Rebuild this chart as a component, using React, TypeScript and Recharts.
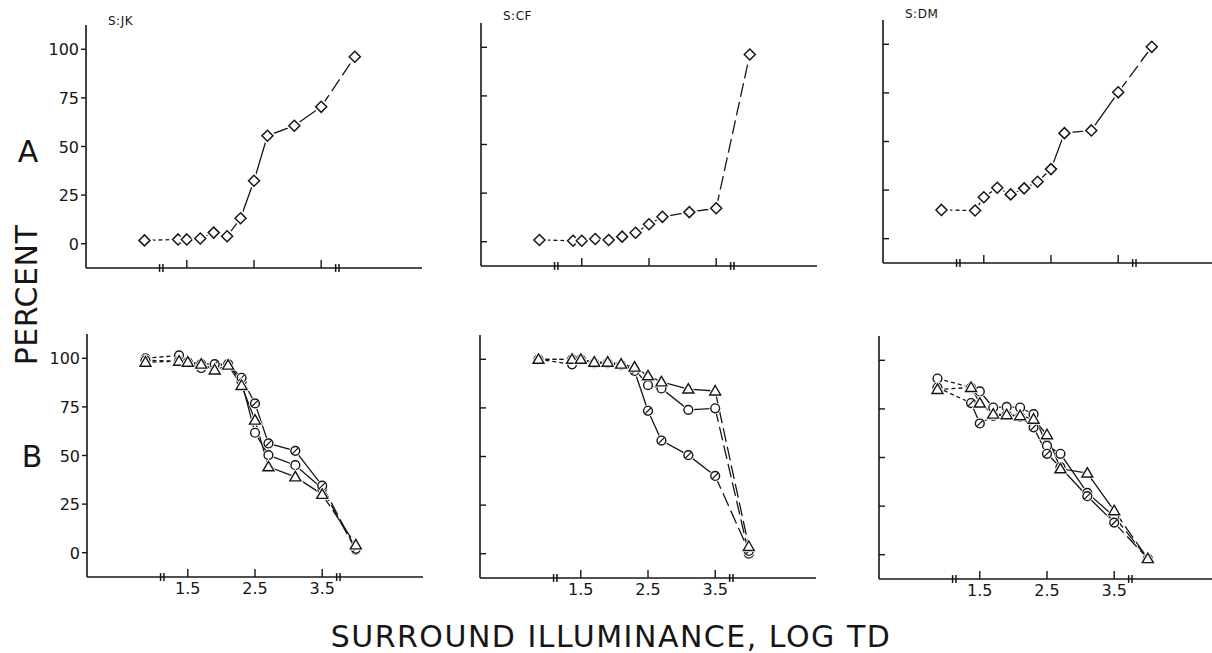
import { ComposedChart, Line, Scatter, XAxis, YAxis, ReferenceLine } from "recharts";

// surround illuminance, log td (first point sits left of the axis break)
const X_LOG_TD = [0.87, 1.37, 1.5, 1.7, 1.9, 2.1, 2.3, 2.5, 2.7, 3.1, 3.5, 4.0];
const X_TICKS = [1.5, 2.5, 3.5];
const Y_TICKS = [0, 25, 50, 75, 100];
const AXIS_BREAKS = [1.12, 3.74];

// row A (diamonds)
const JK_A = [1.7, 2.2, 2.2, 2.7, 5.7, 3.8, 13.1, 32.4, 55.5, 60.7, 70.4, 96.2];
const CF_A = [0.9, 0.5, 0.5, 1.4, 0.9, 2.6, 4.6, 9.0, 12.8, 15.2, 17.2, 96.3];
const DM_A = [14.8, 14.5, 21.3, 26.2, 22.8, 25.9, 29.3, 35.8, 54.3, 55.7, 75.3, 98.7];

// row B: open circle, slashed circle, triangle
const JK_B_OPEN = [100, 101.5, 98, 95, 96, 97, 88, 61.7, 50.2, 45, 33, 1.5];
const JK_B_SLASH = [99, 98.5, 98, 97, 97, 97, 90, 76.8, 56.2, 52.4, 34.5, 2];
const JK_B_TRI = [98, 98.5, 98, 97, 94, 96.5, 86, 68.2, 44.2, 39, 30, 4];

const CF_B_OPEN = [100, 97.4, 100, 98, 98, 97, 95, 86.7, 85, 74, 74.8, 0];
const CF_B_SLASH = [100, 100, 100, 98, 98, 97, 94, 73.5, 58.2, 50.7, 40, 1.4];
const CF_B_TRI = [100, 100, 100, 98.5, 98.5, 97.5, 96, 91.5, 88.4, 84.7, 83.7, 3.7];

const DM_B_OPEN = [90.6, 86, 84, 75.7, 76, 75.7, 72.3, 56.1, 51.9, 31.8, 19.6, -2];
const DM_B_SLASH = [86, 78, 67.5, 71.4, 72, 71, 65.5, 51.9, 45, 30.1, 16.5, -2];
const DM_B_TRI = [85, 86, 78, 72.3, 72, 71.5, 69.7, 61.7, 44.2, 42, 22.6, -2];

const INK = "#161616";
const FONT = '"DejaVu Sans", sans-serif';

const PLOT_W = 336;
const PLOT_H = 243;
const Y_AXIS_W = 50;
const M_TOP = 10;
const M_RIGHT = 10;
const X_AXIS_H = 30;

type Kind = "diamond" | "circle" | "slash" | "triangle";
type Series = { id: string; kind: Kind; values: number[] };

const toPoints = (values: number[]) => X_LOG_TD.map((x, i) => ({ x, y: values[i] }));

function Marker({ cx, cy, kind }: { cx?: number; cy?: number; kind: Kind }) {
  if (cx == null || cy == null) return null;
  if (kind === "diamond") {
    const r = 5.5;
    const pts = `${cx},${cy - r} ${cx + r},${cy} ${cx},${cy + r} ${cx - r},${cy}`;
    return (
      <g>
        <polygon points={pts} fill="#fff" stroke="#fff" strokeWidth={5} />
        <polygon points={pts} fill="#fff" stroke={INK} strokeWidth={1.5} />
      </g>
    );
  }
  if (kind === "triangle") {
    const pts = `${cx},${cy - 5.5} ${cx + 5.5},${cy + 4} ${cx - 5.5},${cy + 4}`;
    return (
      <g>
        <polygon points={pts} fill="#fff" stroke="#fff" strokeWidth={3} />
        <polygon points={pts} fill="#fff" stroke={INK} strokeWidth={1.4} />
      </g>
    );
  }
  const r = 4.4;
  const d = r * 0.7;
  return (
    <g>
      <circle cx={cx} cy={cy} r={r} fill="#fff" stroke="#fff" strokeWidth={3} />
      <circle cx={cx} cy={cy} r={r} fill="#fff" stroke={INK} strokeWidth={1.4} />
      {kind === "slash" && (
        <line x1={cx - d} y1={cy + d} x2={cx + d} y2={cy - d} stroke={INK} strokeWidth={1.2} />
      )}
    </g>
  );
}

function XTick(props: any) {
  const { x, y, payload, showLabel } = props;
  return (
    <g>
      <line x1={x} x2={x} y1={y} y2={y - 8} stroke={INK} strokeWidth={1.4} />
      {showLabel && (
        <text x={x} y={y + 17} textAnchor="middle" fontSize={16} fontFamily={FONT} fill={INK}>
          {payload.value}
        </text>
      )}
    </g>
  );
}

function YTick(props: any) {
  const { x, y, payload, showLabel } = props;
  return (
    <g>
      {showLabel ? (
        <line x1={x - 5} x2={x} y1={y} y2={y} stroke={INK} strokeWidth={1.4} />
      ) : (
        <line x1={x} x2={x + 6} y1={y} y2={y} stroke={INK} strokeWidth={1.4} />
      )}
      {showLabel && (
        <text x={x - 7} y={y + 6} textAnchor="end" fontSize={16} fontFamily={FONT} fill={INK}>
          {payload.value}
        </text>
      )}
    </g>
  );
}

function Panel({
  left,
  top,
  series,
  yLabels,
  xLabels,
}: {
  left: number;
  top: number;
  series: Series[];
  yLabels: boolean;
  xLabels: boolean;
}) {
  return (
    <div style={{ position: "absolute", left: left - Y_AXIS_W, top: top - M_TOP }}>
      <ComposedChart
        width={Y_AXIS_W + PLOT_W + M_RIGHT}
        height={M_TOP + PLOT_H + X_AXIS_H}
        margin={{ top: M_TOP, right: M_RIGHT, bottom: 0, left: 0 }}
      >
        <XAxis
          type="number"
          dataKey="x"
          domain={[0, 5]}
          ticks={X_TICKS}
          interval={0}
          allowDataOverflow
          height={X_AXIS_H}
          axisLine={{ stroke: INK, strokeWidth: 1.6 }}
          tickLine={false}
          tickSize={0}
          tickMargin={0}
          tick={(p: any) => <XTick {...p} showLabel={xLabels} />}
        />
        <YAxis
          type="number"
          dataKey="y"
          domain={[-12.5, 112.5]}
          ticks={Y_TICKS}
          interval={0}
          allowDataOverflow
          width={Y_AXIS_W}
          axisLine={{ stroke: INK, strokeWidth: 1.6 }}
          tickLine={false}
          tickSize={0}
          tickMargin={0}
          tick={(p: any) => <YTick {...p} showLabel={yLabels} />}
        />
        {AXIS_BREAKS.flatMap((b) =>
          [-0.025, 0.025].map((d) => (
            <ReferenceLine
              key={`brk-${b}-${d}`}
              segment={[
                { x: b + d, y: -14.5 },
                { x: b + d, y: -10.5 },
              ]}
              stroke={INK}
              strokeWidth={1.5}
              ifOverflow="visible"
            />
          ))
        )}
        {series.map((s) => {
          const pts = toPoints(s.values);
          return [
            <Line key={`${s.id}-h`} data={pts.slice(0, 2)} dataKey="y" type="linear" stroke={INK} strokeWidth={1.3} strokeDasharray="4 3" dot={false} isAnimationActive={false} />,
            <Line key={`${s.id}-b`} data={pts.slice(1, 11)} dataKey="y" type="linear" stroke={INK} strokeWidth={1.3} dot={false} isAnimationActive={false} />,
            <Line key={`${s.id}-t`} data={pts.slice(10)} dataKey="y" type="linear" stroke={INK} strokeWidth={1.3} strokeDasharray="14 5" dot={false} isAnimationActive={false} />,
          ];
        })}
        {series.map((s) => (
          <Scatter
            key={`${s.id}-m`}
            data={toPoints(s.values)}
            dataKey="y"
            isAnimationActive={false}
            shape={(p: any) => <Marker cx={p.cx} cy={p.cy} kind={s.kind} />}
          />
        ))}
      </ComposedChart>
    </div>
  );
}

const rowB = (open: number[], slash: number[], tri: number[], id: string): Series[] => [
  { id: `${id}-o`, kind: "circle", values: open },
  { id: `${id}-s`, kind: "slash", values: slash },
  { id: `${id}-t`, kind: "triangle", values: tri },
];

export default function App() {
  return (
    <div
      style={{
        position: "absolute",
        left: 0,
        top: 0,
        width: 1212,
        height: 653,
        overflow: "hidden",
        background: "#fff",
      }}
    >
      <Panel left={86} top={25} yLabels xLabels={false} series={[{ id: "jkA", kind: "diamond", values: JK_A }]} />
      <Panel left={481} top={23} yLabels={false} xLabels={false} series={[{ id: "cfA", kind: "diamond", values: CF_A }]} />
      <Panel left={883} top={20} yLabels={false} xLabels={false} series={[{ id: "dmA", kind: "diamond", values: DM_A }]} />
      <Panel left={87} top={334} yLabels xLabels series={rowB(JK_B_OPEN, JK_B_SLASH, JK_B_TRI, "jkB")} />
      <Panel left={480} top={335} yLabels={false} xLabels series={rowB(CF_B_OPEN, CF_B_SLASH, CF_B_TRI, "cfB")} />
      <Panel left={879} top={336} yLabels={false} xLabels series={rowB(DM_B_OPEN, DM_B_SLASH, DM_B_TRI, "dmB")} />

      <svg
        width={1212}
        height={653}
        style={{ position: "absolute", left: 0, top: 0, pointerEvents: "none" }}
        fontFamily={FONT}
        fill={INK}
      >
        <text x={108} y={25} fontSize={12} letterSpacing={0.5}>S:JK</text>
        <text x={503} y={20} fontSize={12} letterSpacing={0.5}>S:CF</text>
        <text x={905} y={18} fontSize={12} letterSpacing={0.5}>S:DM</text>
        <text x={28} y={162} fontSize={30} textAnchor="middle">A</text>
        <text x={32} y={467} fontSize={30} textAnchor="middle">B</text>
        <text transform="translate(37,295) rotate(-90)" fontSize={30} textAnchor="middle" letterSpacing={0.5}>
          PERCENT
        </text>
        <text x={611} y={647} fontSize={30} textAnchor="middle" letterSpacing={1.5}>
          SURROUND ILLUMINANCE, LOG TD
        </text>
      </svg>
    </div>
  );
}
